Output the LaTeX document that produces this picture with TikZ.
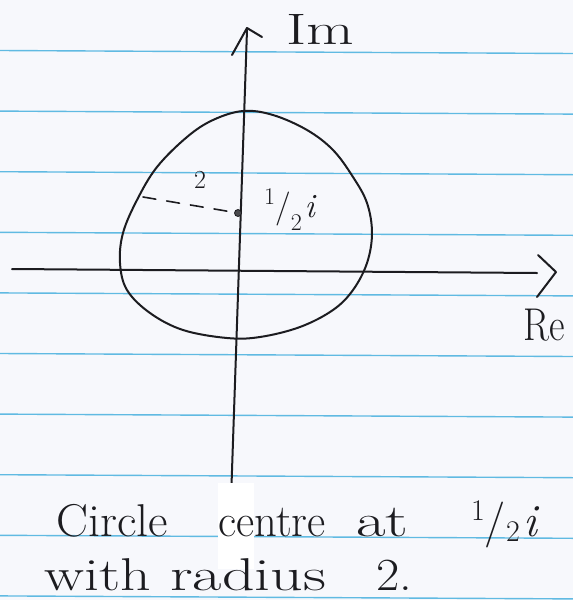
\documentclass[tikz,border=0pt]{standalone}
\usepackage{graphicx}
\definecolor{paper}{RGB}{247,248,252}
\definecolor{rule}{RGB}{96,186,226}
\definecolor{ink}{RGB}{28,28,32}
\newcommand\myhalf[4]{% #1 small size, #2 raise of 1, #3 raise of 2, #4 size of slash and i
  \fontsize{#1}{#1}\selectfont\raisebox{#2}{1}\fontsize{#4}{#4}\selectfont/\fontsize{#1}{#1}\selectfont\raisebox{#3}{2}\hspace{0.12em}\fontsize{#4}{#4}\selectfont\textit{i}}
\tikzset{
  ruled/.style={draw=rule, line width=1.4pt},
  pen/.style={draw=ink, line width=2pt, line cap=round, line join=round},
  hand/.style={text=ink, inner sep=0pt, anchor=base west},
}
\begin{document}
\begin{tikzpicture}[x=1pt,y=-1pt]
\useasboundingbox (0,0) rectangle (573,600);
\fill[paper] (0,0) rectangle (573,600);
% ruled lines of the paper
\foreach \k in {0,...,9}
  \draw[ruled] (0,{50.5+60.6*\k}) -- (573,{53.5+60.6*\k});
% axis end points
\coordinate (imtop) at (247,30);
\coordinate (imbot) at (231,500);
\coordinate (releft) at (12,269);
\coordinate (reright) at (537,273);
\coordinate (ua) at (232,55);
\coordinate (ut) at (247,28);
\coordinate (ub) at (262,37);
\coordinate (ra) at (538,255);
\coordinate (rt) at (556,272);
\coordinate (rb) at (537,297);
% axes
\draw[pen] (imbot) -- (imtop);
\draw[pen] (releft) -- (reright);
\draw[pen] (ua) -- (ut) -- (ub);
\draw[pen] (ra) -- (rt) -- (rb);
% circle
\draw[pen] plot[smooth cycle, tension=0.6] coordinates {
 (243,111) (273,115) (307,130) (333,150) (353,177) (367,203) (372,233)
 (367,263) (353,290) (333,310) (300,327) (260,337) (227,338) (183,330)
 (150,313) (127,290) (120,263) (123,233) (137,200) (157,167) (187,137)
 (213,120)};
% centre
\node[circle, fill=ink!80, draw=ink, line width=0.8pt, inner sep=0pt, minimum size=7pt] (c) at (238,213) {};
\coordinate (edge) at (143,197);
\draw[pen, line width=1.6pt, dash pattern=on 13pt off 11pt] (edge) -- (c);
% labels
\node[hand, anchor=center, font=\fontsize{26}{30}\selectfont] (two) at (200,180) {2};
\node[hand] (half) at (264,217) {\myhalf{24}{13pt}{-13pt}{34}};
\node[hand, font=\fontsize{44}{50}\selectfont] (im) at (286,44) {\scalebox{1.4}[1]{Im}};
\node[hand, font=\fontsize{46}{50}\selectfont] (re) at (523,340) {\scalebox{0.83}[1]{Re}};
% scan artefact
\fill[white] (218,483) rectangle (254,569);
% caption
\begin{scope}[font=\fontsize{46}{50}\selectfont]
\node[hand] (w1) at (56,536) {\scalebox{1.04}[1]{Circle}};
\node[hand] (w2) at (218,536) {\scalebox{0.97}[1]{centre}};
\node[hand] (w3) at (356,536) {\scalebox{1.4}[1]{at}};
\node[hand] (w4) at (471,536) {\myhalf{30}{16pt}{-5pt}{46}};
\node[hand] (w5) at (44,590) {\scalebox{1.3}[1]{with}};
\node[hand] (w6) at (170,590) {\scalebox{1.39}[1]{radius}};
\node[hand] (w7) at (376,590) {\scalebox{1.1}[1]{2.}};
\end{scope}
\end{tikzpicture}
\end{document}
